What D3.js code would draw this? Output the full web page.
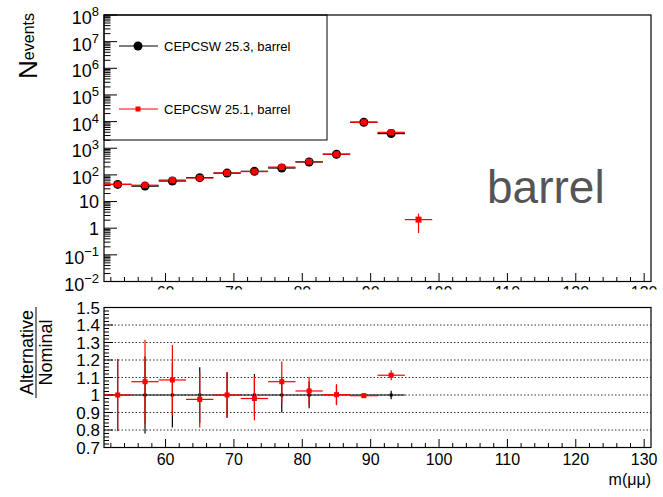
<!DOCTYPE html>
<html>
<head>
<meta charset="utf-8">
<script src="https://cdn.jsdelivr.net/npm/d3@7/dist/d3.min.js"></script>
<style>
  html, body { margin: 0; padding: 0; background: #fff; }
  svg { display: block; font-family: "Liberation Sans", Arial, Helvetica, sans-serif; }
</style>
</head>
<body>
<svg id="chart" width="663" height="497"></svg>
<script>
// ---------------- data ----------------
const binCenters   = [53, 57, 61, 65, 69, 73, 77, 81, 85, 89, 93, 97];
const binHalfWidth = 2;
const nominal      = [44, 38, 59, 79, 117, 136, 182, 306, 595, 9480, 3560, 0];      // CEPCSW 25.3, barrel
const alternative  = [44, 41, 64, 77, 117, 133, 196, 313, 596, 9440, 3960, 2.1];    // CEPCSW 25.1, barrel
const altErrLow    = [0, 0, 0, 0, 0, 0, 0, 0, 0, 0, 0, 1.45];
const altErrHigh   = [0, 0, 0, 0, 0, 0, 0, 0, 0, 0, 0, 1.45];
const ratioCenters = [53, 57, 61, 65, 69, 73, 77, 81, 85, 89, 93];
const ratio        = [1.0, 1.076, 1.086, 0.975, 1.0, 0.98, 1.076, 1.023, 1.002, 0.996, 1.113];
const ratioErr     = [0.205, 0.24, 0.2, 0.16, 0.13, 0.125, 0.115, 0.08, 0.06, 0.01, 0.028];
const nomRatioErr  = [0.205, 0.22, 0.185, 0.158, 0.13, 0.12, 0.1, 0.076, 0.055, 0.008, 0.024];
const xTicks       = [60, 70, 80, 90, 100, 110, 120, 130];
const yTopExps     = [-2, -1, 0, 1, 2, 3, 4, 5, 6, 7, 8];
const yBotTicks    = [0.7, 0.8, 0.9, 1, 1.1, 1.2, 1.3, 1.4, 1.5];
const gridLines    = [0.8, 0.9, 1.0, 1.1, 1.2, 1.3, 1.4];
const legendLabels = ["CEPCSW 25.3, barrel", "CEPCSW 25.1, barrel"];
const colors       = ["#000000", "#ff0000"];

// ---------------- layout ----------------
const svg = d3.select("#chart");
const L = 104, R = 651;
const topT = 15, topB = 281.5;
const botT = 307.5, botB = 447.5;

const x = d3.scaleLinear().domain([51, 131]).range([L, R]);
const yTop = d3.scaleLog().domain([1e-2, 1e8]).range([topB, topT]);
const yBot = d3.scaleLinear().domain([0.7, 1.5]).range([botB, botT]);

// ---------------- legend (drawn before axes so ticks overlay) ----------------
const leg = svg.append("g");
leg.append("rect").attr("x", L).attr("y", topT).attr("width", 327 - L).attr("height", 140 - topT)
  .attr("fill", "#fff").attr("stroke", "#000").attr("stroke-width", 1);
const legY = [46, 109];
legendLabels.forEach((lab, i) => {
  leg.append("line").attr("x1", 119).attr("x2", 158).attr("y1", legY[i]).attr("y2", legY[i])
    .attr("stroke", colors[i]).attr("stroke-width", 1.2);
  if (i === 0) {
    leg.append("circle").attr("cx", 138).attr("cy", legY[i]).attr("r", 4.5).attr("fill", "#000");
  } else {
    leg.append("rect").attr("x", 135.5).attr("y", legY[i] - 2.5).attr("width", 5).attr("height", 5).attr("fill", "#ff0000");
  }
  leg.append("text").attr("x", 164).attr("y", legY[i] + 4.5).attr("font-size", 13).attr("fill", "#000").text(lab);
});

// ---------------- top panel ----------------
const gTop = svg.append("g");

// y ticks (log)
yTopExps.forEach(e => {
  const yy = yTop(Math.pow(10, e));
  gTop.append("line").attr("x1", L).attr("x2", L + 13).attr("y1", yy).attr("y2", yy).attr("stroke", "#000");
  if (e < 8) {
    for (let m = 2; m <= 9; m++) {
      const ym = yTop(m * Math.pow(10, e));
      gTop.append("line").attr("x1", L).attr("x2", L + 6.5).attr("y1", ym).attr("y2", ym).attr("stroke", "#000");
    }
  }
  const t = gTop.append("text").attr("x", 99).attr("text-anchor", "end").attr("fill", "#000");
  if (e === 0 || e === 1) {
    t.attr("y", yy + 6.5).attr("font-size", 18).text(e === 0 ? "1" : "10");
  } else {
    t.attr("y", yy + 9).attr("font-size", 18);
    t.append("tspan").text("10");
    t.append("tspan").attr("dy", -8).attr("font-size", 13).text(e < 0 ? "\u2212" + (-e) : String(e));
  }
});

// x ticks on top panel
const minorX = d3.range(52, 131, 2);
minorX.forEach(v => {
  const major = v % 10 === 0;
  gTop.append("line").attr("x1", x(v)).attr("x2", x(v)).attr("y1", topB).attr("y2", topB - (major ? 8.5 : 4.5)).attr("stroke", "#000");
});
// clipped x labels (mostly hidden under lower pad)
const clip = svg.append("defs").append("clipPath").attr("id", "topclip");
clip.append("rect").attr("x", 0).attr("y", 0).attr("width", 663).attr("height", 289.5);
const gTopLab = svg.append("g").attr("clip-path", "url(#topclip)");
xTicks.forEach(v => {
  gTopLab.append("text").attr("x", x(v)).attr("y", 298).attr("text-anchor", "middle").attr("font-size", 16).text(v);
});

// frame
gTop.append("rect").attr("x", L).attr("y", topT).attr("width", R - L).attr("height", topB - topT)
  .attr("fill", "none").attr("stroke", "#000").attr("stroke-width", 1.2);

// nominal (black)
binCenters.forEach((c, i) => {
  if (nominal[i] <= 0) return;
  const yy = yTop(nominal[i]);
  gTop.append("line").attr("x1", x(c - binHalfWidth)).attr("x2", x(c + binHalfWidth)).attr("y1", yy).attr("y2", yy)
    .attr("stroke", "#000").attr("stroke-width", 1.3);
  gTop.append("circle").attr("cx", x(c)).attr("cy", yy).attr("r", 4.5).attr("fill", "#000");
});
// alternative (red)
binCenters.forEach((c, i) => {
  if (alternative[i] <= 0) return;
  const yy = yTop(alternative[i]);
  gTop.append("line").attr("x1", x(c - binHalfWidth)).attr("x2", x(c + binHalfWidth)).attr("y1", yy).attr("y2", yy)
    .attr("stroke", "#ff0000").attr("stroke-width", 1.2);
  if (altErrHigh[i] > 0) {
    gTop.append("line").attr("x1", x(c)).attr("x2", x(c))
      .attr("y1", yTop(alternative[i] + altErrHigh[i])).attr("y2", yTop(Math.max(alternative[i] - altErrLow[i], 0.3)))
      .attr("stroke", "#ff0000").attr("stroke-width", 1.2);
  }
  gTop.append("rect").attr("x", x(c) - 3).attr("y", yy - 3).attr("width", 6).attr("height", 6).attr("fill", "#ff0000");
});

// barrel label
svg.append("text").attr("x", 487).attr("y", 203).attr("font-size", 46).attr("fill", "#555555").text("barrel");

// N_events title
const yt = svg.append("text").attr("transform", "translate(37,13) rotate(-90)").attr("text-anchor", "end").attr("fill", "#000");
yt.append("tspan").attr("font-size", 26).text("N");
yt.append("tspan").attr("font-size", 16).attr("dy", -3).text("events");

// ---------------- bottom panel ----------------
const gBot = svg.append("g");
// grid
gridLines.forEach(v => {
  gBot.append("line").attr("x1", L).attr("x2", R).attr("y1", yBot(v)).attr("y2", yBot(v))
    .attr("stroke", "#333").attr("stroke-width", 1).attr("stroke-dasharray", "1.5,2");
});
// y ticks
d3.range(0.7, 1.5001, 0.02).forEach(v => {
  const vv = Math.round(v * 100) / 100;
  const major = Math.abs(vv * 10 - Math.round(vv * 10)) < 1e-6;
  gBot.append("line").attr("x1", L).attr("x2", L + (major ? 9 : 5)).attr("y1", yBot(vv)).attr("y2", yBot(vv)).attr("stroke", "#000");
});
yBotTicks.forEach(v => {
  gBot.append("text").attr("x", 100).attr("y", yBot(v) + 6).attr("text-anchor", "end").attr("font-size", 17)
    .text(v === 1 ? "1" : v.toFixed(1));
});
// x ticks
minorX.forEach(v => {
  const major = v % 10 === 0;
  gBot.append("line").attr("x1", x(v)).attr("x2", x(v)).attr("y1", botB).attr("y2", botB - (major ? 8.5 : 4.5)).attr("stroke", "#000");
});
xTicks.forEach(v => {
  gBot.append("text").attr("x", x(v)).attr("y", 465).attr("text-anchor", "middle").attr("font-size", 16).text(v);
});
gBot.append("text").attr("x", R).attr("y", 485).attr("text-anchor", "end").attr("font-size", 16).text("m(\u03bc\u03bc)");

// frame
gBot.append("rect").attr("x", L).attr("y", botT).attr("width", R - L).attr("height", botB - botT)
  .attr("fill", "none").attr("stroke", "#000").attr("stroke-width", 1.2);

// nominal ratio (black)
gBot.append("line").attr("x1", x(ratioCenters[0] - binHalfWidth)).attr("x2", x(ratioCenters[ratioCenters.length - 1] + binHalfWidth))
  .attr("y1", yBot(1)).attr("y2", yBot(1)).attr("stroke", "#000").attr("stroke-width", 1.2);
ratioCenters.forEach((c, i) => {
  gBot.append("line").attr("x1", x(c)).attr("x2", x(c)).attr("y1", yBot(1 + nomRatioErr[i])).attr("y2", yBot(1 - nomRatioErr[i]))
    .attr("stroke", "#000").attr("stroke-width", 1.2);
  gBot.append("rect").attr("x", x(c) - 1.5).attr("y", yBot(1) - 1.5).attr("width", 3).attr("height", 3).attr("fill", "#000");
});
// alternative ratio (red)
ratioCenters.forEach((c, i) => {
  const yy = yBot(ratio[i]);
  gBot.append("line").attr("x1", x(c - binHalfWidth)).attr("x2", x(c + binHalfWidth)).attr("y1", yy).attr("y2", yy)
    .attr("stroke", "#ff0000").attr("stroke-width", 1.2);
  gBot.append("line").attr("x1", x(c)).attr("x2", x(c)).attr("y1", yBot(ratio[i] + ratioErr[i])).attr("y2", yBot(ratio[i] - ratioErr[i]))
    .attr("stroke", "#ff0000").attr("stroke-width", 1.2);
  gBot.append("rect").attr("x", x(c) - 2.5).attr("y", yy - 2.5).attr("width", 5).attr("height", 5).attr("fill", "#ff0000");
});

// ratio title
const rt = svg.append("g").attr("transform", "translate(0,352.5)");
rt.append("text").attr("transform", "translate(33,0) rotate(-90)").attr("text-anchor", "middle").attr("font-size", 18).text("Alternative");
rt.append("text").attr("transform", "translate(52,0) rotate(-90)").attr("text-anchor", "middle").attr("font-size", 18).text("Nominal");
rt.append("line").attr("x1", 36).attr("x2", 36).attr("y1", -45.5).attr("y2", 45.5).attr("stroke", "#000").attr("stroke-width", 1);
</script>
</body>
</html>
